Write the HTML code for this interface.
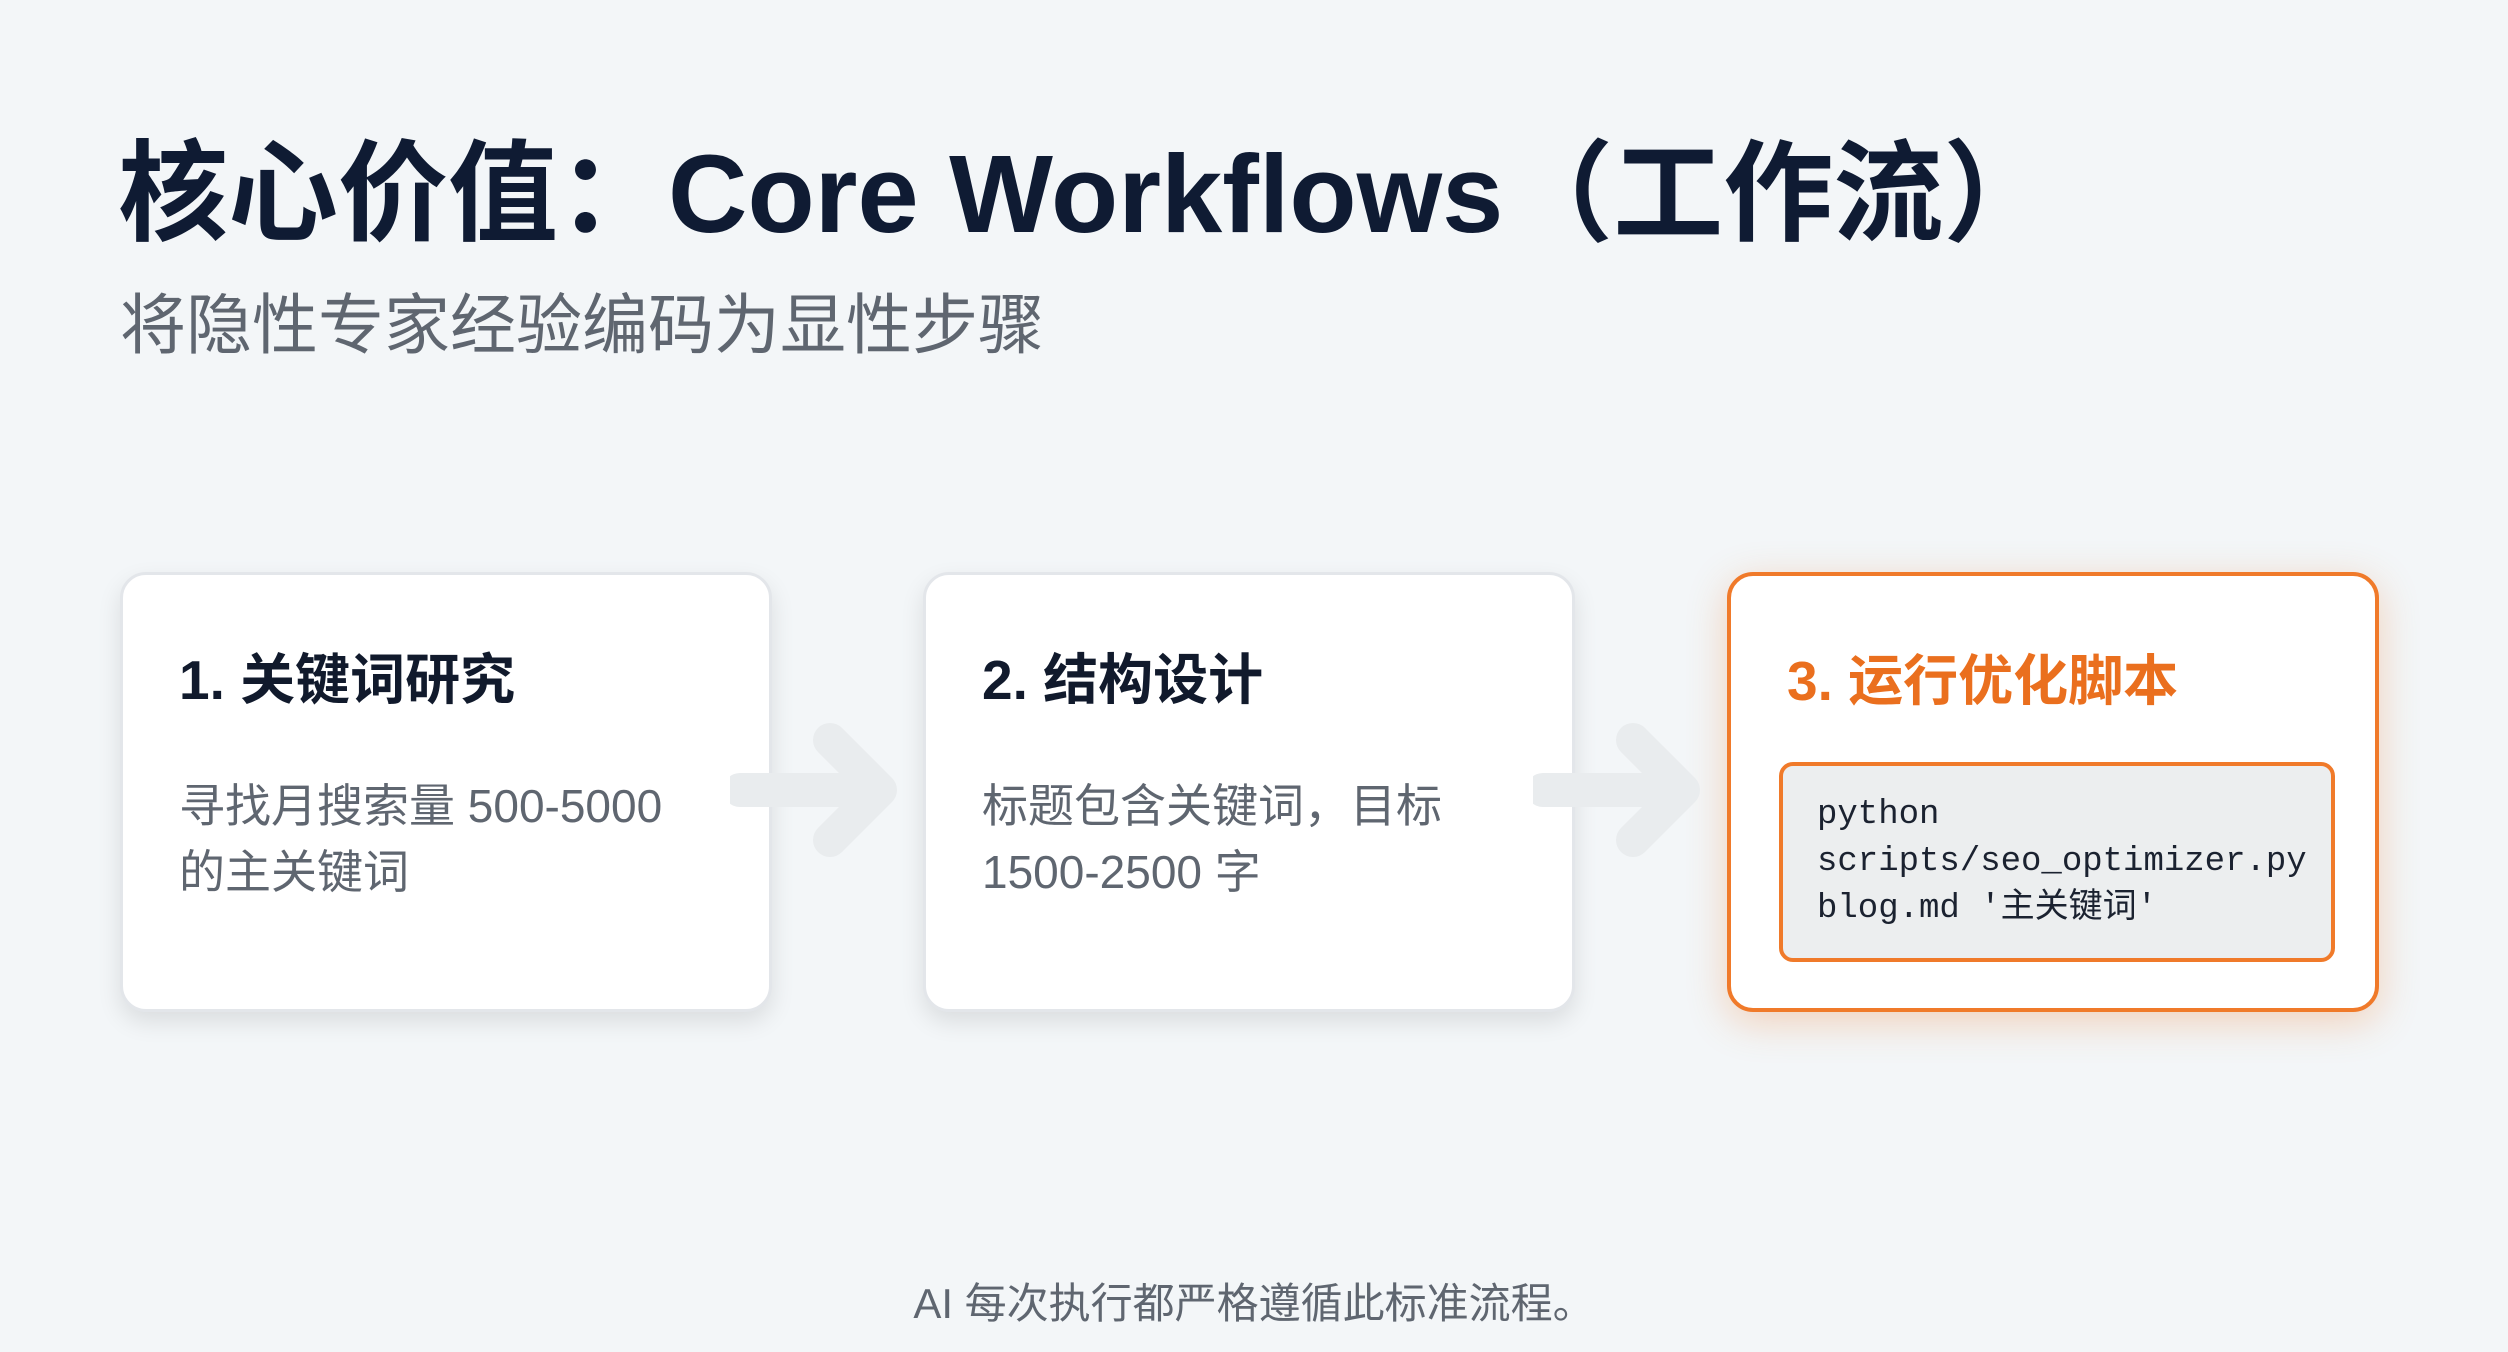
<!DOCTYPE html>
<html><head><meta charset="utf-8">
<style>
html,body{margin:0;padding:0}
body{width:2508px;height:1352px;background:#f3f6f8;position:relative;overflow:hidden;font-family:"Liberation Sans","Noto Sans CJK SC",sans-serif}
.t{position:absolute;left:118px;top:104px;font-size:110px;font-weight:700;color:#0f1b33;white-space:nowrap;letter-spacing:0px}
.s{position:absolute;left:120px;top:272px;font-size:66px;color:#5f6670;white-space:nowrap}
.box{position:absolute;top:572px;width:652px;height:440px;background:#fff;border:3px solid #e3e6ea;border-radius:26px;box-shadow:0 10px 24px rgba(0,0,0,.10);box-sizing:border-box}
.h{position:absolute;left:56px;top:60px;font-size:55px;font-weight:700;color:#111a2c;white-space:nowrap}
.b{position:absolute;left:56px;top:198px;font-size:46px;line-height:66px;color:#5f6670}
.o{border:4px solid #f07a2a;box-shadow:0 10px 40px rgba(240,122,42,.30)}
.o .h{color:#ea6f1e}
.code{position:absolute;left:48px;top:186px;width:556px;height:200px;background:#eceeef;border:4px solid #f07a2a;border-radius:14px;box-sizing:border-box;padding:26px 34px;font-family:"Liberation Mono","Noto Sans CJK SC",monospace;font-size:34px;line-height:47px;color:#1b2230;white-space:pre}
.f{position:absolute;left:0;width:2508px;top:1270px;text-align:center;font-size:42px;color:#5f6670}
svg{position:absolute}
</style></head><body>
<div class="t">核心价值：Core Workflows（工作流）</div>
<div class="s">将隐性专家经验编码为显性步骤</div>
<div class="box" style="left:120px"><div class="h">1. 关键词研究</div><div class="b">寻找月搜索量 500-5000<br>的主关键词</div></div>
<div class="box" style="left:923px"><div class="h">2. 结构设计</div><div class="b">标题包含关键词，目标<br>1500-2500 字</div></div>
<div class="box o" style="left:1727px"><div class="h">3. 运行优化脚本</div><div class="code">python
scripts/seo_optimizer.py
blog.md '主关键词'</div></div>
<svg style="left:730px;top:715px" width="180" height="150" viewBox="0 0 180 150"><path d="M10 75 H150 M100 25 L150 75 L100 125" fill="none" stroke="#e9ecee" stroke-width="34" stroke-linecap="round" stroke-linejoin="round"/></svg>
<svg style="left:1533px;top:715px" width="180" height="150" viewBox="0 0 180 150"><path d="M10 75 H150 M100 25 L150 75 L100 125" fill="none" stroke="#e9ecee" stroke-width="34" stroke-linecap="round" stroke-linejoin="round"/></svg>
<div class="f">AI 每次执行都严格遵循此标准流程。</div>
</body></html>
